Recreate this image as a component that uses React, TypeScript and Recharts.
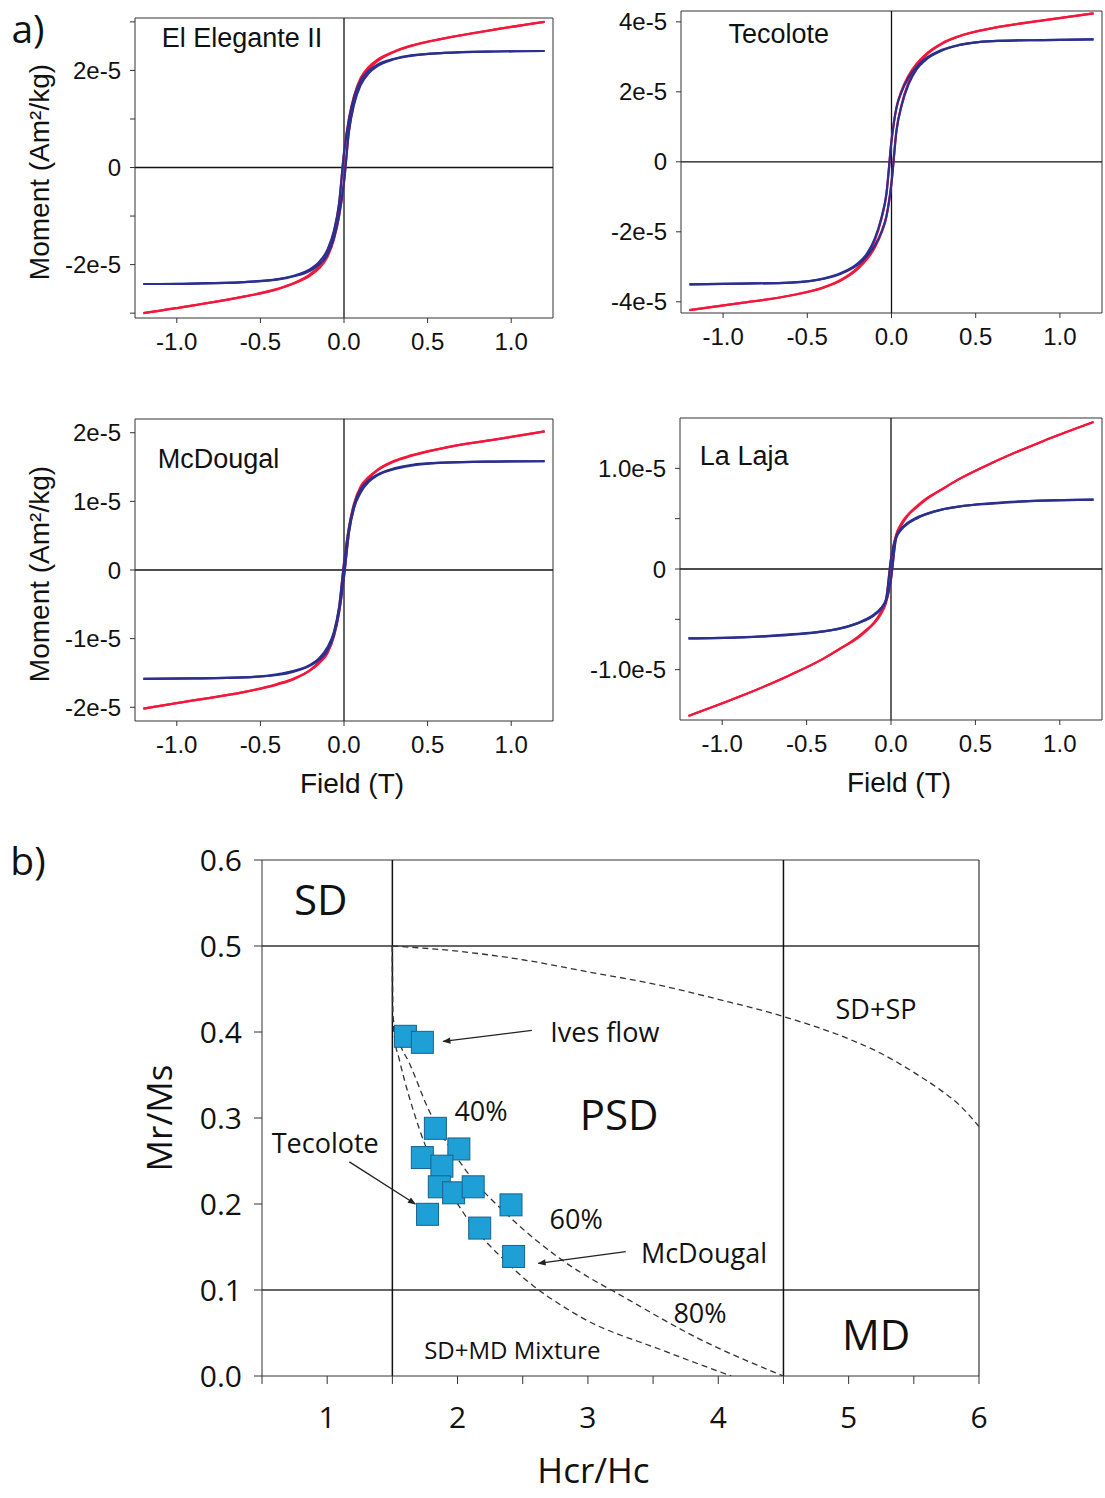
import React from "react";
import {
  LineChart,
  ComposedChart,
  Line,
  Scatter,
  XAxis,
  YAxis,
  ReferenceLine,
  ReferenceDot,
} from "recharts";

// ---------- a) hysteresis loops ----------
// field in T, moment in units of 1e-5 Am²/kg
const fieldT = [
  -1.2, -0.9, -0.6, -0.4, -0.3, -0.2, -0.15, -0.1, -0.06, -0.03, 0, 0.03, 0.06,
  0.1, 0.15, 0.2, 0.3, 0.4, 0.6, 0.9, 1.2,
];
const fieldTicks = [-1, -0.5, 0, 0.5, 1];

// El Elegante II  (raw = red, cor = blue / slope corrected; down = branch coming from +1.2 T)
const elegRawDown = [-3.0, -2.84, -2.66, -2.5, -2.38, -2.19, -2.03, -1.75, -1.33, -0.77, 0.3, 1.02, 1.48, 1.85, 2.08, 2.22, 2.39, 2.51, 2.66, 2.84, 3.0];
const elegRawUp = [-3.0, -2.84, -2.66, -2.51, -2.39, -2.22, -2.08, -1.85, -1.48, -1.02, -0.3, 0.77, 1.33, 1.75, 2.03, 2.19, 2.38, 2.5, 2.66, 2.84, 3.0];
const elegCorDown = [-2.4, -2.39, -2.36, -2.3, -2.23, -2.09, -1.95, -1.7, -1.3, -0.75, 0.3, 1.0, 1.45, 1.8, 2.0, 2.12, 2.24, 2.31, 2.36, 2.39, 2.4];
const elegCorUp = [-2.4, -2.39, -2.36, -2.31, -2.24, -2.12, -2.0, -1.8, -1.45, -1.0, -0.3, 0.75, 1.3, 1.7, 1.95, 2.09, 2.23, 2.3, 2.36, 2.39, 2.4];

// Tecolote
const tecoRawDown = [-4.24, -4.04, -3.82, -3.58, -3.37, -3.02, -2.74, -2.26, -1.64, -0.92, 0.6, 1.57, 2.04, 2.46, 2.81, 3.06, 3.39, 3.59, 3.82, 4.04, 4.24];
const tecoRawUp = [-4.24, -4.04, -3.82, -3.59, -3.39, -3.06, -2.81, -2.46, -2.04, -1.57, -0.6, 0.92, 1.64, 2.26, 2.74, 3.02, 3.37, 3.58, 3.82, 4.04, 4.24];
const tecoCorDown = [-3.5, -3.48, -3.45, -3.33, -3.18, -2.9, -2.65, -2.2, -1.6, -0.9, 0.6, 1.55, 2.0, 2.4, 2.72, 2.94, 3.2, 3.34, 3.45, 3.48, 3.5];
const tecoCorUp = [-3.5, -3.48, -3.45, -3.34, -3.2, -2.94, -2.72, -2.4, -2.0, -1.55, -0.6, 0.9, 1.6, 2.2, 2.65, 2.9, 3.18, 3.33, 3.45, 3.48, 3.5];

// McDougal
const mcdRawDown = [-2.02, -1.9, -1.78, -1.66, -1.58, -1.45, -1.34, -1.17, -0.92, -0.56, 0.1, 0.63, 0.97, 1.22, 1.36, 1.46, 1.59, 1.67, 1.78, 1.9, 2.02];
const mcdRawUp = [-2.02, -1.9, -1.78, -1.67, -1.59, -1.46, -1.36, -1.22, -0.97, -0.63, -0.1, 0.56, 0.92, 1.17, 1.34, 1.45, 1.58, 1.66, 1.78, 1.9, 2.02];
const mcdCorDown = [-1.585, -1.58, -1.565, -1.52, -1.47, -1.38, -1.29, -1.13, -0.9, -0.55, 0.1, 0.62, 0.95, 1.18, 1.31, 1.39, 1.48, 1.53, 1.565, 1.58, 1.585];
const mcdCorUp = [-1.585, -1.58, -1.565, -1.53, -1.48, -1.39, -1.31, -1.18, -0.95, -0.62, -0.1, 0.55, 0.9, 1.13, 1.29, 1.38, 1.47, 1.52, 1.565, 1.58, 1.585];

// La Laja
const lajaRawDown = [-1.46, -1.27, -1.055, -0.89, -0.79, -0.68, -0.61, -0.53, -0.43, -0.32, 0.1, 0.34, 0.45, 0.54, 0.62, 0.69, 0.79, 0.89, 1.055, 1.27, 1.46];
const lajaRawUp = [-1.46, -1.27, -1.055, -0.89, -0.79, -0.69, -0.62, -0.54, -0.45, -0.34, -0.1, 0.32, 0.43, 0.53, 0.61, 0.68, 0.79, 0.89, 1.055, 1.27, 1.46];
const lajaCorDown = [-0.69, -0.68, -0.65, -0.62, -0.59, -0.54, -0.5, -0.45, -0.39, -0.3, 0.1, 0.32, 0.4, 0.46, 0.51, 0.54, 0.59, 0.62, 0.655, 0.68, 0.69];
const lajaCorUp = [-0.69, -0.68, -0.655, -0.62, -0.59, -0.54, -0.51, -0.46, -0.4, -0.32, -0.1, 0.3, 0.39, 0.45, 0.5, 0.54, 0.59, 0.62, 0.65, 0.68, 0.69];

// ---------- b) Day plot ----------
const sampleHcrHc = [1.6, 1.73, 1.83, 2.01, 1.73, 1.88, 1.86, 1.97, 2.12, 1.77, 2.17, 2.41, 2.43];
const sampleMrMs = [0.395, 0.388, 0.288, 0.264, 0.254, 0.244, 0.22, 0.213, 0.22, 0.188, 0.172, 0.199, 0.139];

const sdspHcrHc = [1.5, 2, 2.5, 3, 3.5, 4, 4.5, 5, 5.25, 5.5, 5.7, 5.85, 6];
const sdspMrMs = [0.5, 0.494, 0.484, 0.47, 0.456, 0.438, 0.418, 0.392, 0.375, 0.353, 0.333, 0.315, 0.29];

const mixAHcrHc = [1.5, 1.503, 1.52, 1.55, 1.71, 2.04, 2.42, 2.94, 3.57, 4.1];
const mixAMrMs = [0.5, 0.42, 0.39, 0.37, 0.286, 0.191, 0.126, 0.069, 0.03, 0.0];
const mixBHcrHc = [1.5, 1.503, 1.55, 1.63, 1.78, 2.05, 2.4, 2.8, 3.32, 3.83, 4.5];
const mixBMrMs = [0.5, 0.42, 0.39, 0.364, 0.309, 0.242, 0.185, 0.135, 0.088, 0.045, 0.0];

const hcrTicks = [0.5, 1, 1.5, 2, 2.5, 3, 3.5, 4, 4.5, 5, 5.5, 6];
const mrTicks = [0, 0.1, 0.2, 0.3, 0.4, 0.5, 0.6];

const RED = "#f2183b";
const BLUE = "#2b2f8e";
const AXIS = "#333";
const ARIAL = "'Liberation Sans', Arial, sans-serif";
const HUMAN = "'Open Sans', 'Noto Sans', sans-serif";

const loopPoints = (m: number[]) => fieldT.map((f, i) => ({ f, m: m[i] }));
const xyPoints = (xs: number[], ys: number[]) => xs.map((x, i) => ({ x, y: ys[i] }));

type PanelProps = {
  title: string;
  titleAt: [number, number];
  left: number;
  top: number;
  width: number;
  height: number;
  margin: { top: number; right: number; bottom: number; left: number };
  yAxisWidth: number;
  yDomain: [number, number];
  yTicks: number[];
  yFormat: (v: number) => string;
  raw: number[][];
  cor: number[][];
  yTitle?: boolean;
  xTitle?: boolean;
};

const momentTitle = (props: any) => {
  const vb = props.viewBox;
  const cx = vb.x + 39;
  const cy = vb.y + vb.height / 2 + 4;
  return (
    <text
      x={cx}
      y={cy}
      transform={`rotate(-90 ${cx} ${cy})`}
      textAnchor="middle"
      dominantBaseline="central"
      fontSize={28}
      fontFamily={ARIAL}
      fill="#111"
    >
      Moment (Am²/kg)
    </text>
  );
};

const fieldTitle = (props: any) => {
  const vb = props.viewBox;
  return (
    <text
      x={vb.x + vb.width / 2 + 8}
      y={vb.y + 62}
      textAnchor="middle"
      dominantBaseline="central"
      fontSize={28}
      fontFamily={ARIAL}
      fill="#111"
    >
      Field (T)
    </text>
  );
};

function LoopPanel(p: PanelProps) {
  const tickStyle = { fill: "#111", fontSize: 24, fontFamily: ARIAL };
  return (
    <div style={{ position: "absolute", left: p.left, top: p.top }}>
      <LineChart width={p.width} height={p.height} margin={p.margin}>
        <XAxis
          type="number"
          dataKey="f"
          domain={[-1.25, 1.25]}
          allowDataOverflow
          ticks={fieldTicks}
          interval={0}
          tickFormatter={(v: number) => v.toFixed(1)}
          height={40}
          tickSize={5}
          tickMargin={10}
          axisLine={{ stroke: AXIS }}
          tickLine={{ stroke: AXIS }}
          tick={tickStyle}
          label={p.xTitle ? fieldTitle : undefined}
        />
        <YAxis
          type="number"
          domain={p.yDomain}
          allowDataOverflow
          ticks={p.yTicks}
          interval={0}
          tickFormatter={p.yFormat}
          width={p.yAxisWidth}
          tickSize={5}
          tickMargin={9}
          axisLine={{ stroke: AXIS }}
          tickLine={{ stroke: AXIS }}
          tick={tickStyle}
          label={p.yTitle ? momentTitle : undefined}
        />
        <ReferenceLine y={p.yDomain[1]} stroke={AXIS} />
        <ReferenceLine x={1.25} stroke={AXIS} />
        <ReferenceLine y={0} stroke="#111" strokeWidth={1.3} />
        <ReferenceLine x={0} stroke="#111" strokeWidth={1.3} />
        {p.raw.map((m, i) => (
          <Line
            key={"raw" + i}
            data={loopPoints(m)}
            dataKey="m"
            type="monotone"
            stroke={RED}
            strokeWidth={2.2}
            dot={false}
            activeDot={false}
            isAnimationActive={false}
          />
        ))}
        {p.cor.map((m, i) => (
          <Line
            key={"cor" + i}
            data={loopPoints(m)}
            dataKey="m"
            type="monotone"
            stroke={BLUE}
            strokeWidth={2.2}
            dot={false}
            activeDot={false}
            isAnimationActive={false}
          />
        ))}
        <ReferenceDot
          x={p.titleAt[0]}
          y={p.titleAt[1]}
          r={0}
          fill="none"
          stroke="none"
          label={{
            value: p.title,
            position: "center",
            fontSize: 27,
            fill: "#111",
            fontFamily: ARIAL,
          }}
        />
      </LineChart>
    </div>
  );
}

const eFmt = (v: number) => (v === 0 ? "0" : `${v}e-5`);

// label placement in the Day plot (layout, not data)
const dayNotes = [
  { text: "SD", x: 0.95, y: 0.553, size: 42 },
  { text: "PSD", x: 3.24, y: 0.303, size: 42 },
  { text: "MD", x: 5.21, y: 0.048, size: 42 },
  { text: "SD+SP", x: 5.21, y: 0.426, size: 27 },
  { text: "Ives flow", x: 3.13, y: 0.4, size: 27 },
  { text: "40%", x: 2.18, y: 0.308, size: 27 },
  { text: "Tecolote", x: 0.985, y: 0.271, size: 27 },
  { text: "60%", x: 2.91, y: 0.182, size: 27 },
  { text: "McDougal", x: 3.89, y: 0.143, size: 27 },
  { text: "80%", x: 3.86, y: 0.073, size: 27 },
  { text: "SD+MD Mixture", x: 2.42, y: 0.03, size: 24 },
];

const dayArrows = [
  { from: { x: 2.57, y: 0.402 }, to: { x: 1.89, y: 0.389 } },
  { from: { x: 1.17, y: 0.249 }, to: { x: 1.676, y: 0.2 } },
  { from: { x: 3.29, y: 0.1445 }, to: { x: 2.62, y: 0.131 } },
];

const arrowShape = (props: any) => (
  <line
    x1={props.x1}
    y1={props.y1}
    x2={props.x2}
    y2={props.y2}
    stroke="#222"
    strokeWidth={1.3}
    markerEnd="url(#arrowHead)"
  />
);

const squareShape = (props: any) => (
  <rect
    x={props.cx - 11}
    y={props.cy - 11}
    width={22}
    height={22}
    fill="#1e9fd6"
    stroke="#17628c"
    strokeWidth={1}
  />
);

const mrTitle = (props: any) => {
  const vb = props.viewBox;
  const cx = vb.x + 158;
  const cy = vb.y + vb.height / 2;
  return (
    <text
      x={cx}
      y={cy}
      transform={`rotate(-90 ${cx} ${cy})`}
      textAnchor="middle"
      dominantBaseline="central"
      fontSize={35}
      fontFamily={HUMAN}
      fill="#111"
    >
      Mr/Ms
    </text>
  );
};

const hcrTitle = (props: any) => {
  const vb = props.viewBox;
  return (
    <text
      x={vb.x + vb.width / 2 - 27}
      y={vb.y + 93}
      textAnchor="middle"
      dominantBaseline="central"
      fontSize={35}
      fontFamily={HUMAN}
      fill="#111"
    >
      Hcr/Hc
    </text>
  );
};

function DayPlot() {
  const tickStyle = { fill: "#111", fontSize: 30, fontFamily: HUMAN };
  const dash = { stroke: "#333", strokeWidth: 1.3, strokeDasharray: "6 4" };
  return (
    <div style={{ position: "absolute", left: 0, top: 820 }}>
      <ComposedChart
        width={1105}
        height={678}
        margin={{ top: 40, right: 126, bottom: 62, left: 0 }}
      >
        <XAxis
          type="number"
          dataKey="x"
          domain={[0.5, 6]}
          allowDataOverflow
          ticks={hcrTicks}
          interval={0}
          tickFormatter={(v: number) => (Number.isInteger(v) ? String(v) : "")}
          height={60}
          tickSize={8}
          tickMargin={23}
          axisLine={{ stroke: AXIS }}
          tickLine={{ stroke: AXIS }}
          tick={tickStyle}
          label={hcrTitle}
        />
        <YAxis
          type="number"
          dataKey="y"
          domain={[0, 0.6]}
          allowDataOverflow
          ticks={mrTicks}
          interval={0}
          tickFormatter={(v: number) => v.toFixed(1)}
          width={262}
          tickSize={8}
          tickMargin={12}
          axisLine={{ stroke: AXIS }}
          tickLine={{ stroke: AXIS }}
          tick={tickStyle}
          label={mrTitle}
        />
        <ReferenceLine y={0.6} stroke={AXIS} strokeWidth={1.2} />
        <ReferenceLine x={6} stroke={AXIS} strokeWidth={1.2} />
        <ReferenceLine y={0.5} stroke={AXIS} strokeWidth={1.3} />
        <ReferenceLine y={0.1} stroke={AXIS} strokeWidth={1.3} />
        <ReferenceLine x={1.5} stroke="#111" strokeWidth={1.5} />
        <ReferenceLine x={4.5} stroke="#111" strokeWidth={1.5} />
        <Line data={xyPoints(sdspHcrHc, sdspMrMs)} dataKey="y" type="monotone" {...dash} dot={false} activeDot={false} isAnimationActive={false} />
        <Line data={xyPoints(mixAHcrHc, mixAMrMs)} dataKey="y" type="monotone" {...dash} dot={false} activeDot={false} isAnimationActive={false} />
        <Line data={xyPoints(mixBHcrHc, mixBMrMs)} dataKey="y" type="monotone" {...dash} dot={false} activeDot={false} isAnimationActive={false} />
        {dayArrows.map((a, i) => (
          <ReferenceLine key={"arrow" + i} segment={[a.from, a.to]} shape={arrowShape} />
        ))}
        <Scatter
          data={xyPoints(sampleHcrHc, sampleMrMs)}
          dataKey="y"
          shape={squareShape}
          isAnimationActive={false}
        />
        {dayNotes.map((n) => (
          <ReferenceDot
            key={n.text}
            x={n.x}
            y={n.y}
            r={0}
            fill="none"
            stroke="none"
            label={{
              value: n.text,
              position: "center",
              fontSize: n.size,
              fill: "#111",
              fontFamily: HUMAN,
            }}
          />
        ))}
      </ComposedChart>
    </div>
  );
}

export default function App() {
  return (
    <div
      style={{
        position: "absolute",
        left: 0,
        top: 0,
        width: 1105,
        height: 1498,
        background: "#fff",
        overflow: "hidden",
      }}
    >
      <svg width={0} height={0} style={{ position: "absolute" }}>
        <defs>
          <marker
            id="arrowHead"
            viewBox="0 0 10 10"
            refX="9"
            refY="5"
            markerWidth="11"
            markerHeight="8"
            markerUnits="userSpaceOnUse"
            orient="auto"
          >
            <path d="M0,1 L10,5 L0,9 z" fill="#222" />
          </marker>
        </defs>
      </svg>

      <LoopPanel
        title="El Elegante II"
        titleAt={[-0.61, 2.67]}
        left={0}
        top={0}
        width={560}
        height={400}
        margin={{ top: 18, right: 7, bottom: 42, left: 0 }}
        yAxisWidth={135}
        yDomain={[-3.1, 3.08]}
        yTicks={[-3, -2, -1, 0, 1, 2, 3]}
        yFormat={(v) => (v === 0 ? "0" : v % 2 === 0 ? `${v}e-5` : "")}
        raw={[elegRawDown, elegRawUp]}
        cor={[elegCorDown, elegCorUp]}
        yTitle
      />
      <LoopPanel
        title="Tecolote"
        titleAt={[-0.67, 3.68]}
        left={560}
        top={0}
        width={545}
        height={400}
        margin={{ top: 11, right: 3, bottom: 47, left: 0 }}
        yAxisWidth={121}
        yDomain={[-4.32, 4.31]}
        yTicks={[-4, -2, 0, 2, 4]}
        yFormat={eFmt}
        raw={[tecoRawDown, tecoRawUp]}
        cor={[tecoCorDown, tecoCorUp]}
      />
      <LoopPanel
        title="McDougal"
        titleAt={[-0.75, 1.63]}
        left={0}
        top={400}
        width={560}
        height={410}
        margin={{ top: 19, right: 7, bottom: 49, left: 0 }}
        yAxisWidth={135}
        yDomain={[-2.2, 2.2]}
        yTicks={[-2, -1, 0, 1, 2]}
        yFormat={eFmt}
        raw={[mcdRawDown, mcdRawUp]}
        cor={[mcdCorDown, mcdCorUp]}
        yTitle
        xTitle
      />
      <LoopPanel
        title="La Laja"
        titleAt={[-0.87, 1.13]}
        left={560}
        top={400}
        width={545}
        height={410}
        margin={{ top: 18, right: 3, bottom: 50, left: 0 }}
        yAxisWidth={120}
        yDomain={[-1.5, 1.5]}
        yTicks={[-1, -0.5, 0, 0.5, 1]}
        yFormat={(v) => (v === 0 ? "0" : Math.abs(v) === 1 ? `${v.toFixed(1)}e-5` : "")}
        raw={[lajaRawDown, lajaRawUp]}
        cor={[lajaCorDown, lajaCorUp]}
        xTitle
      />

      <DayPlot />

      <svg
        width={1105}
        height={1498}
        style={{ position: "absolute", left: 0, top: 0, pointerEvents: "none" }}
      >
        <text x={28} y={27} textAnchor="middle" dominantBaseline="central" fontSize={39} fontFamily={HUMAN} fill="#111">
          a)
        </text>
        <text x={28} y={859} textAnchor="middle" dominantBaseline="central" fontSize={39} fontFamily={HUMAN} fill="#111">
          b)
        </text>
      </svg>
    </div>
  );
}
